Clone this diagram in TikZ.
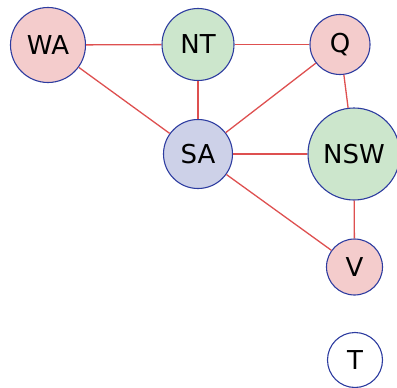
\documentclass[tikz,border=0pt]{standalone}
\usepackage{fontspec}
\setmainfont{DejaVu Sans}
\definecolor{pinkf}{RGB}{244,204,204}
\definecolor{greenf}{RGB}{204,230,204}
\definecolor{bluef}{RGB}{205,209,232}
\definecolor{bord}{RGB}{45,60,160}
\definecolor{edg}{RGB}{222,80,80}
\begin{document}
\begin{tikzpicture}[x=1pt,y=-1pt,
  st/.style={circle,draw=bord,line width=1.1pt,inner sep=0pt,font=\fontsize{26}{30}\selectfont},
  ed/.style={draw=edg,line width=1.3pt}]
\useasboundingbox (0,0) rectangle (397,388);
\node[st,fill=pinkf,minimum size=75pt] (WA) at (48,45) {WA};
\node[st,fill=greenf,minimum size=72pt] (NT) at (198,44.5) {NT};
\node[st,fill=pinkf,minimum size=60pt] (Q) at (340,44.5) {Q};
\node[st,fill=bluef,minimum size=69pt] (SA) at (198,154) {SA};
\node[st,fill=greenf,minimum size=92pt] (NSW) at (354,154) {NSW};
\node[st,fill=pinkf,minimum size=56pt] (V) at (354.5,267) {V};
\node[st,fill=white,minimum size=55pt] (T) at (355,360) {T};
\draw[ed] (WA) -- (NT);
\draw[ed] (NT) -- (Q);
\draw[ed] (WA) -- (SA);
\draw[ed] (NT) -- (SA);
\draw[ed] (Q) -- (SA);
\draw[ed] (Q) -- (NSW);
\draw[ed] (SA) -- (NSW);
\draw[ed] (SA) -- (V);
\draw[ed] (NSW) -- (V);
\end{tikzpicture}
\end{document}
